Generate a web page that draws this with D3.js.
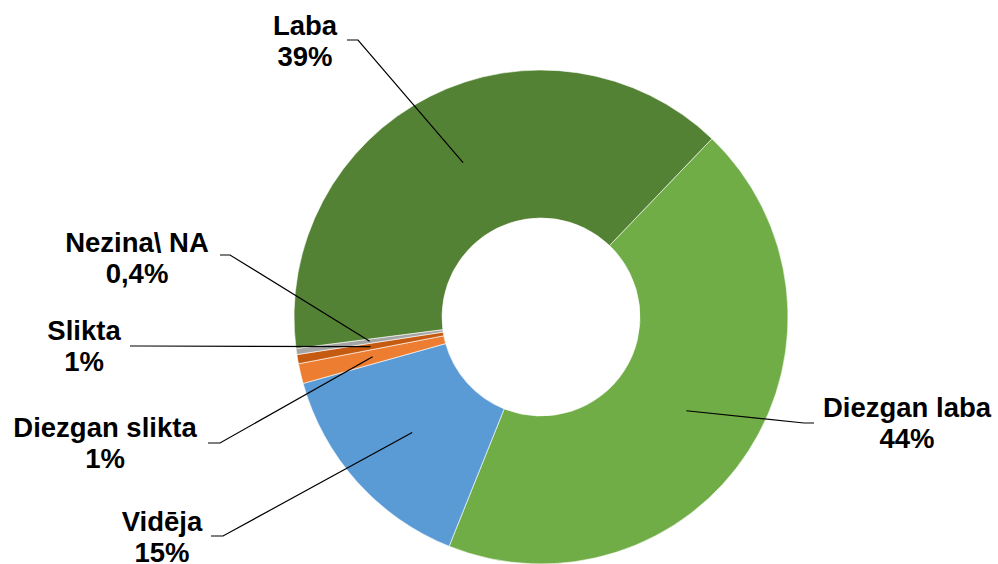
<!DOCTYPE html>
<html>
<head>
<meta charset="utf-8">
<script src="https://cdn.jsdelivr.net/npm/d3@7"></script>
<style>
  body { margin: 0; background: #fff; }
  svg { display: block; }
  .lbl { font-family: Arial, "Liberation Sans", sans-serif; font-weight: bold; font-size: 27.5px; fill: #000; }
</style>
</head>
<body>
<svg id="chart" width="998" height="564"></svg>
<script>
// categories in drawing order (clockwise from the upper right)
const categories = ['Diezgan laba', 'Vidēja', 'Diezgan slikta', 'Slikta', 'Nezina\\ NA', 'Laba']
// shares in percent
const values = [43.9, 14.6, 1.3, 0.6, 0.4, 39.2]
// percentage labels as printed
const pctLabels = ['44%', '15%', '1%', '1%', '0,4%', '39%']
const colors = ['#70AD47', '#5B9BD5', '#ED7D31', '#C55A11', '#A5A5A5', '#548235']

// label placement: text centre x, first baseline y, leader start and elbow
const labelPos = [
    {x: 907, y: 417, ax: 814, ay: 423, ex: 804, ey: 423},
    {x: 162, y: 531, ax: 211, ay: 536, ex: 223, ey: 536},
    {x: 105, y: 437, ax: 208, ay: 443, ex: 220, ey: 443},
    {x: 84,  y: 340, ax: 130, ay: 346, ex: 140, ey: 346},
    {x: 137, y: 252, ax: 220, ay: 255, ex: 230, ey: 255},
    {x: 305, y: 35,  ax: 347, ay: 40,  ex: 358, ey: 40}
]

const cx = 541, cy = 317
const outerR = 247, innerR = 99
const startAngle = 43.8 * Math.PI / 180

const svg = d3.select('#chart')
const data = categories.map((c, i) => ({name: c, value: values[i], pct: pctLabels[i], color: colors[i], pos: labelPos[i]}))

const pie = d3.pie()
    .value(d => d.value)
    .sort(null)
    .startAngle(startAngle)
    .endAngle(startAngle + 2 * Math.PI)

const arc = d3.arc().innerRadius(innerR).outerRadius(outerR)

const arcs = pie(data)

const g = svg.append('g').attr('transform', `translate(${cx},${cy})`)

g.selectAll('.slice')
    .data(arcs)
    .join('path')
    .attr('class', 'slice')
    .attr('d', arc)
    .attr('fill', d => d.data.color)
    .attr('stroke', '#fff')
    .attr('stroke-width', 0.6)

// leader lines from slice centroid to label
svg.selectAll('.leader')
    .data(arcs)
    .join('polyline')
    .attr('class', 'leader')
    .attr('points', d => {
        const c = arc.centroid(d)
        const p = d.data.pos
        return `${p.ax},${p.ay} ${p.ex},${p.ey} ${cx + c[0]},${cy + c[1]}`
    })
    .attr('fill', 'none')
    .attr('stroke', '#000')
    .attr('stroke-width', 1.2)

const labels = svg.selectAll('.lbl')
    .data(arcs)
    .join('text')
    .attr('class', 'lbl')
    .attr('text-anchor', 'middle')

labels.append('tspan')
    .attr('x', d => d.data.pos.x)
    .attr('y', d => d.data.pos.y)
    .text(d => d.data.name)

labels.append('tspan')
    .attr('x', d => d.data.pos.x)
    .attr('y', d => d.data.pos.y + 31)
    .text(d => d.data.pct)
</script>
</body>
</html>
